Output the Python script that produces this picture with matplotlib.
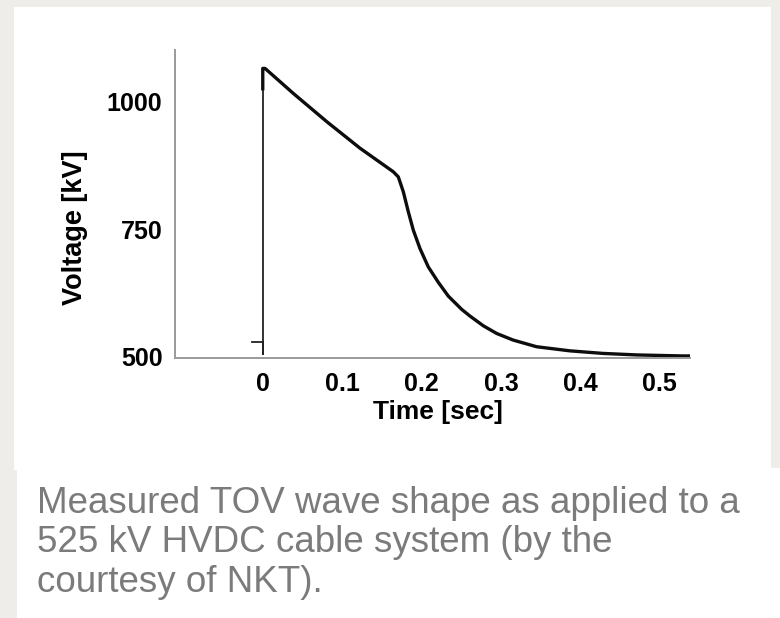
import matplotlib
matplotlib.use("Agg")
import matplotlib.pyplot as plt
from matplotlib.patches import Rectangle

# ---- data ----
step_t = [-0.014, -0.0004, -0.0004, -0.0004]
step_v = [529, 529, 504, 1064]

main_t = [-0.0004, -0.0004, 0.0025, 0.0382, 0.0802, 0.1222, 0.1641, 0.1704,
          0.1767, 0.183, 0.1893, 0.1977, 0.2082, 0.2208, 0.2334, 0.2503,
          0.2607, 0.2775, 0.2943, 0.3152, 0.3447, 0.3866, 0.428, 0.4707,
          0.529, 0.538]
main_v = [1021, 1064, 1064, 1015, 960, 908, 862, 852,
          823, 784, 748, 712, 676, 646, 619, 593,
          580, 561, 546, 533, 520, 512, 507, 504,
          502, 502]

x_ticks = [0, 0.1, 0.2, 0.3, 0.4, 0.5]
x_ticklabels = ["0", "0.1", "0.2", "0.3", "0.4", "0.5"]
y_ticks = [500, 750, 1000]
y_ticklabels = ["500", "750", "1000"]
x_label = "Time [sec]"
y_label = "Voltage [kV]"
caption = "Measured TOV wave shape as applied to a\n525 kV HVDC cable system (by the\ncourtesy of NKT)."

W, H = 780, 618
fig = plt.figure(figsize=(W / 100, H / 100), dpi=100)
fig.patch.set_facecolor("#EEEDE9")

def fx(px):
    return px / W

def fy(py):
    return 1 - py / H

# white panels (behind everything)
fig.patches.append(Rectangle((fx(14), fy(470)), fx(771 - 14), (470 - 7) / H,
                             transform=fig.transFigure, facecolor="white",
                             edgecolor="none", zorder=-10))
fig.patches.append(Rectangle((fx(17), 0), 1 - fx(17), fy(468),
                             transform=fig.transFigure, facecolor="white",
                             edgecolor="none", zorder=-10))

ax = fig.add_axes([fx(175), fy(358), fx(690 - 175), (358 - 50) / H])
ax.set_facecolor("none")
ax.set_zorder(5)

ax.plot(step_t, step_v, color="#222222", lw=1.3, solid_joinstyle="miter")
ax.plot(main_t, main_v, color="#0d0d0d", lw=2.4, solid_joinstyle="round",
        solid_capstyle="butt")

ax.set_xlim(-0.111, 0.538)
ax.set_ylim(498, 1100)

for s in ["top", "right"]:
    ax.spines[s].set_visible(False)
for s in ["left", "bottom"]:
    ax.spines[s].set_color("#9a9a9a")
    ax.spines[s].set_linewidth(1.4)

font = "Liberation Sans"
ax.set_xticks(x_ticks)
ax.set_xticklabels(x_ticklabels, fontfamily=font, fontweight="bold", fontsize=18)
ax.set_yticks(y_ticks)
ax.set_yticklabels(y_ticklabels, fontfamily=font, fontweight="bold", fontsize=18)
ax.tick_params(axis="both", length=0)
ax.tick_params(axis="x", pad=10)
ax.tick_params(axis="y", pad=9)

ax.set_xlabel(x_label, fontfamily=font, fontweight="bold", fontsize=19)
ax.xaxis.set_label_coords((438 - 175) / 515, (358 - 412) / 308)
ax.xaxis.label.set_va("center")

ax.set_ylabel(y_label, fontfamily=font, fontweight="bold", fontsize=19.5)
ax.yaxis.set_label_coords((75 - 175) / 515, (358 - 228) / 308)
ax.yaxis.label.set_va("center")

fig.text(fx(37), fy(543), caption, fontfamily=font, fontsize=26.5,
         color="#7b7b7b", ha="left", va="center", linespacing=1.17)

fig.savefig("out.png", dpi=100, facecolor=fig.get_facecolor())
